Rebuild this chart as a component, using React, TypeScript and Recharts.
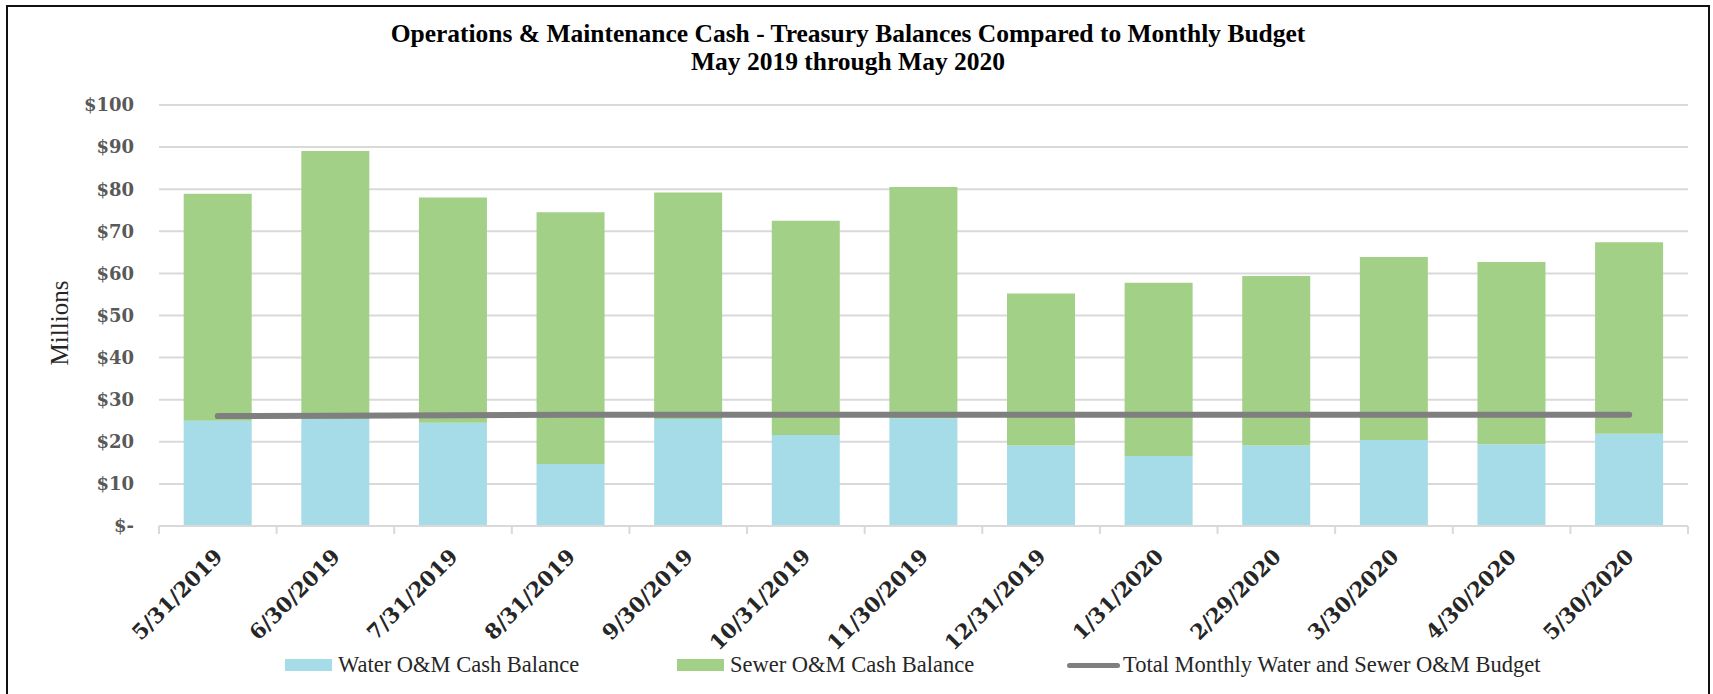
import { ComposedChart, Bar, Line, XAxis, YAxis, CartesianGrid } from "recharts"

const months = [
  "5/31/2019", "6/30/2019", "7/31/2019", "8/31/2019", "9/30/2019",
  "10/31/2019", "11/30/2019", "12/31/2019", "1/31/2020", "2/29/2020",
  "3/30/2020", "4/30/2020", "5/30/2020",
]
// millions of dollars
const waterBalance = [25.0, 25.4, 24.5, 14.7, 25.4, 21.6, 25.6, 19.1, 16.6, 19.1, 20.4, 19.4, 21.9]
const sewerBalance = [53.9, 63.7, 53.5, 59.8, 53.8, 50.9, 54.9, 36.1, 41.2, 40.3, 43.5, 43.3, 45.5]
const monthlyBudget = [26.1, 26.2, 26.3, 26.4, 26.4, 26.4, 26.4, 26.4, 26.4, 26.4, 26.4, 26.4, 26.4]
const yTicks = [0, 10, 20, 30, 40, 50, 60, 70, 80, 90, 100]

const data = months.map((month, i) => ({
  month,
  water: waterBalance[i],
  sewer: sewerBalance[i],
  budget: monthlyBudget[i],
}))

const TICK_FONT = '"DejaVu Serif", serif'
const TEXT_FONT = '"Liberation Serif", serif'
const WATER = "#a5dce7"
const SEWER = "#a2d086"
const BUDGET = "#7f7f7f"
const GRID = "#d9d9d9"

function MonthTick(props: any) {
  const { x, y, payload, index, visibleTicksCount } = props
  const half = payload.offset || 0
  const axisY = y - 8
  return (
    <g>
      <line x1={x - half} x2={x - half} y1={axisY} y2={axisY + 8} stroke={GRID} strokeWidth={2} />
      {index === visibleTicksCount - 1 && (
        <line x1={x + half} x2={x + half} y1={axisY} y2={axisY + 8} stroke={GRID} strokeWidth={2} />
      )}
      <text
        transform={`translate(${x + 6},${axisY + 32}) rotate(-45)`}
        textAnchor="end"
        fontFamily={TICK_FONT}
        fontWeight="bold"
        fontSize={21}
        fill="#262626"
      >
        {payload.value}
      </text>
    </g>
  )
}

const legendText = { fontFamily: TEXT_FONT, fontSize: 22.5, color: "#262626", whiteSpace: "nowrap" as const, lineHeight: "24px" }

export default function App() {
  return (
    <div style={{ position: "absolute", left: 0, top: 0, width: 1713, height: 694, overflow: "hidden", background: "#fff" }}>
      <div style={{ position: "absolute", left: 6, top: 5, width: 1700, height: 720, border: "2px solid #111" }} />
      <div
        style={{
          position: "absolute", left: 348, width: 1000, top: 20, textAlign: "center",
          fontFamily: TEXT_FONT, fontWeight: "bold", fontSize: 25.5, lineHeight: "28px", color: "#000",
        }}
      >
        Operations &amp; Maintenance Cash - Treasury Balances Compared to Monthly Budget
        <br />
        May 2019 through May 2020
      </div>
      <div
        style={{
          position: "absolute", left: 60, top: 323, transform: "translate(-50%, -50%) rotate(-90deg)",
          fontFamily: TEXT_FONT, fontSize: 25, color: "#262626", whiteSpace: "nowrap",
        }}
      >
        Millions
      </div>

      <div style={{ position: "absolute", left: 0, top: 0 }}>
        <ComposedChart width={1713} height={694} data={data} margin={{ top: 105, right: 25, left: 0, bottom: 0 }} barCategoryGap="21%">
          <CartesianGrid vertical={false} stroke={GRID} strokeWidth={2} />
          <XAxis
            dataKey="month"
            height={168}
            interval={0}
            axisLine={{ stroke: GRID, strokeWidth: 2 }}
            tickLine={false}
            tick={<MonthTick />}
          />
          <YAxis
            width={159}
            domain={[0, 100]}
            ticks={yTicks}
            axisLine={false}
            tickLine={false}
            tickMargin={19}
            tickFormatter={(v: number) => (v === 0 ? "$-" : `$${v}`)}
            tick={{ fontFamily: TICK_FONT, fontWeight: "bold", fontSize: 18, fill: "#595959" }}
          />
          <Bar dataKey="water" name="Water O&M Cash Balance" stackId="cash" fill={WATER} isAnimationActive={false} />
          <Bar dataKey="sewer" name="Sewer O&M Cash Balance" stackId="cash" fill={SEWER} isAnimationActive={false} />
          <Line
            dataKey="budget"
            name="Total Monthly Water and Sewer O&M Budget"
            type="linear"
            stroke={BUDGET}
            strokeWidth={6}
            strokeLinecap="round"
            dot={false}
            activeDot={false}
            isAnimationActive={false}
          />
        </ComposedChart>
      </div>

      <div style={{ position: "absolute", left: 285, top: 653, display: "flex", alignItems: "center", gap: 6 }}>
        <span style={{ width: 47, height: 12, background: WATER, display: "inline-block" }} />
        <span style={legendText}>Water O&amp;M Cash Balance</span>
      </div>
      <div style={{ position: "absolute", left: 677, top: 653, display: "flex", alignItems: "center", gap: 6 }}>
        <span style={{ width: 47, height: 12, background: SEWER, display: "inline-block" }} />
        <span style={legendText}>Sewer O&amp;M Cash Balance</span>
      </div>
      <div style={{ position: "absolute", left: 1067, top: 653, display: "flex", alignItems: "center", gap: 3 }}>
        <span style={{ width: 53, height: 5, background: BUDGET, borderRadius: 3, display: "inline-block" }} />
        <span style={legendText}>Total Monthly Water and Sewer O&amp;M Budget</span>
      </div>
    </div>
  )
}
